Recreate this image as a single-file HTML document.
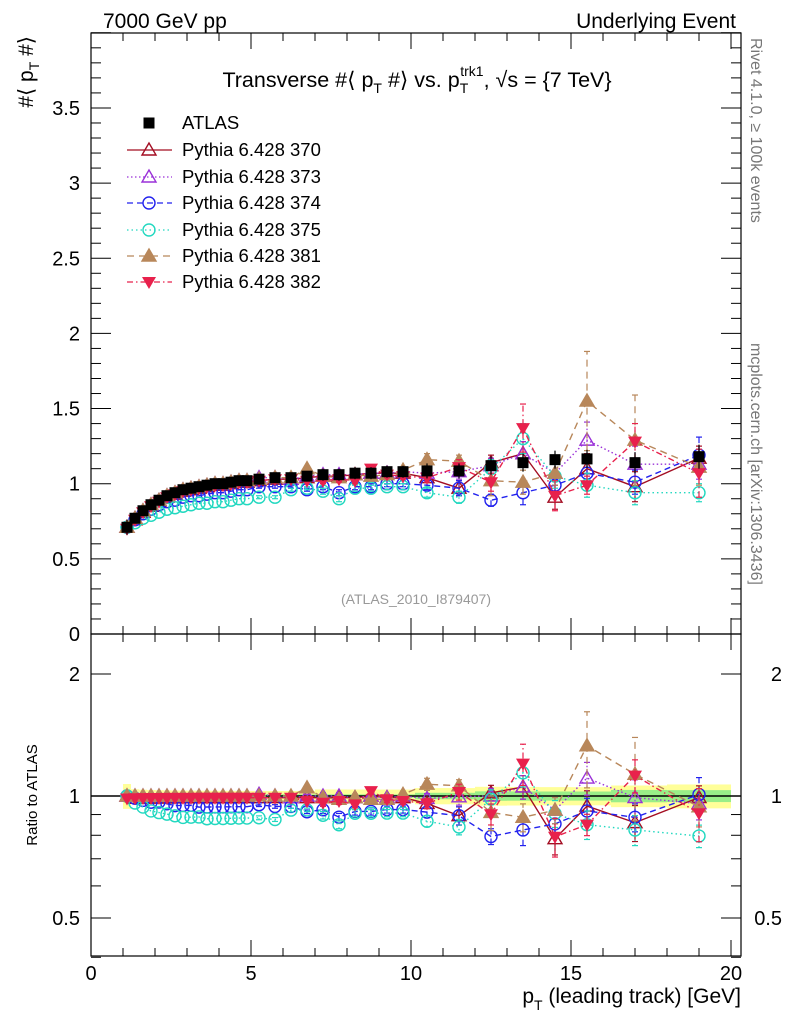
<!DOCTYPE html>
<html><head><meta charset="utf-8"><style>
html,body{margin:0;background:#fff;font-family:"Liberation Sans",sans-serif;overflow:hidden;width:786px;height:1024px}
svg{display:block}
svg text{font-family:"Liberation Sans","DejaVu Sans",sans-serif}
</style></head><body>
<svg id="c" width="786" height="1024" xmlns="http://www.w3.org/2000/svg">
<text x="103" y="28" font-size="21">7000 GeV pp</text>
<text x="736" y="28" font-size="21" text-anchor="end">Underlying Event</text>
<text x="417" y="87" font-size="21.5" text-anchor="middle">Transverse #⟨ p<tspan font-size="14" dy="6">T</tspan><tspan dy="-6"> #⟩ vs. p</tspan><tspan font-size="14" dy="6">T</tspan><tspan font-size="14" dx="-8" dy="-17">trk1</tspan><tspan dy="11">, √s = {7 TeV}</tspan></text>
<text transform="translate(33,36) rotate(-90)" font-size="21" text-anchor="end">#⟨ p<tspan font-size="14" dy="6">T</tspan><tspan dy="-6"> #⟩</tspan></text>
<text transform="translate(37,795) rotate(-90)" font-size="15" text-anchor="middle">Ratio to ATLAS</text>
<text x="741" y="1003" font-size="21" text-anchor="end">p<tspan font-size="14" dy="7">T</tspan><tspan dy="-7"> (leading track) [GeV]</tspan></text>
<text x="416" y="604" font-size="14" fill="#999" text-anchor="middle">(ATLAS_2010_I879407)</text>
<text transform="translate(751,38) rotate(90)" font-size="16" fill="#777">Rivet 4.1.0, ≥ 100k events</text>
<text transform="translate(751,343) rotate(90)" font-size="16" fill="#777">mcplots.cern.ch [arXiv:1306.3436]</text>
<g id="plot"></g>
</svg>
<script>
const xs=[1.125,1.375,1.625,1.875,2.125,2.375,2.625,2.875,3.125,3.375,3.625,3.875,4.125,4.375,4.625,4.875,5.25,5.75,6.25,6.75,7.25,7.75,8.25,8.75,9.25,9.75,10.5,11.5,12.5,13.5,14.5,15.5,17,19];
const atlas=[0.71,0.77,0.82,0.86,0.89,0.92,0.94,0.96,0.97,0.98,0.99,1.00,1.00,1.01,1.02,1.02,1.03,1.04,1.04,1.05,1.06,1.06,1.07,1.07,1.08,1.08,1.085,1.085,1.12,1.14,1.16,1.165,1.14,1.18];
const atlasStat=[0.02,0.01,0.01,0.01,0.01,0.01,0.01,0.01,0.01,0.01,0.01,0.01,0.01,0.01,0.01,0.01,0.01,0.01,0.01,0.01,0.01,0.01,0.01,0.01,0.01,0.01,0.02,0.02,0.03,0.03,0.03,0.03,0.04,0.04];
const atlasSys=[0.05,0.03,0.03,0.03,0.03,0.03,0.03,0.03,0.03,0.03,0.03,0.03,0.03,0.03,0.03,0.03,0.03,0.03,0.03,0.03,0.04,0.04,0.04,0.04,0.04,0.04,0.05,0.05,0.06,0.06,0.06,0.06,0.07,0.08];
const p370=[0.71,0.76,0.81,0.85,0.88,0.91,0.93,0.95,0.96,0.97,0.98,0.99,0.99,1.00,1.01,1.01,1.02,1.03,1.03,1.04,1.05,1.05,1.06,1.07,1.07,1.07,1.04,0.97,1.14,1.20,0.91,1.10,0.98,1.17];
const p373=[0.71,0.77,0.82,0.86,0.89,0.92,0.94,0.96,0.97,0.98,0.99,1.00,1.00,1.01,1.02,1.02,1.04,1.04,1.03,1.05,1.06,1.06,1.06,1.07,1.07,1.08,1.07,1.08,1.12,1.20,1.07,1.29,1.13,1.13];
const p374=[0.71,0.76,0.80,0.83,0.86,0.88,0.89,0.91,0.92,0.92,0.93,0.94,0.94,0.95,0.96,0.96,0.98,0.98,0.98,0.96,0.98,0.94,0.98,0.98,1.00,1.00,0.99,0.97,0.89,0.94,0.99,1.07,1.01,1.19];
const p375=[0.71,0.74,0.77,0.79,0.81,0.83,0.84,0.85,0.86,0.87,0.87,0.88,0.88,0.89,0.90,0.90,0.91,0.91,0.96,0.97,0.95,0.90,0.97,0.97,0.98,0.98,0.94,0.91,1.10,1.30,1.05,0.99,0.94,0.94];
const p381=[0.71,0.77,0.82,0.86,0.89,0.92,0.94,0.96,0.97,0.98,0.99,1.00,1.00,1.01,1.02,1.02,1.03,1.04,1.04,1.10,1.05,1.04,1.06,1.05,1.06,1.09,1.16,1.15,1.02,1.01,1.07,1.55,1.29,1.11];
const p382=[0.70,0.76,0.81,0.85,0.88,0.91,0.93,0.95,0.96,0.97,0.98,0.99,0.99,1.00,1.01,1.01,1.02,1.03,1.03,1.02,1.02,1.03,1.02,1.10,1.06,1.05,1.04,1.11,1.01,1.37,0.92,0.99,1.28,1.07];
const e370=[0,0,0,0,0,0,0,0,0,0,0,0,0,0,0,0,0.01,0.01,0.01,0.01,0.02,0.02,0.02,0.02,0.02,0.02,0.03,0.05,0.05,0.08,0.08,0.10,0.10,0.08];
const e373=[0,0,0,0,0,0,0,0,0,0,0,0,0,0,0,0,0.01,0.01,0.01,0.01,0.02,0.02,0.02,0.02,0.02,0.02,0.03,0.05,0.05,0.08,0.08,0.12,0.12,0.10];
const e374=[0,0,0,0,0,0,0,0,0,0,0,0,0,0,0,0,0.01,0.01,0.01,0.01,0.02,0.02,0.02,0.02,0.02,0.02,0.03,0.05,0.04,0.08,0.06,0.08,0.08,0.12];
const e375=[0,0,0,0,0,0,0,0,0,0,0,0,0,0,0,0,0.01,0.01,0.01,0.01,0.02,0.02,0.02,0.02,0.02,0.02,0.03,0.04,0.06,0.10,0.08,0.08,0.08,0.06];
const e381=[0,0,0,0,0,0,0,0,0,0,0,0,0,0,0,0,0.01,0.01,0.01,0.01,0.02,0.02,0.02,0.02,0.02,0.02,0.04,0.04,0.10,0.08,0.08,0.33,0.30,0.12];
const e382=[0,0,0,0,0,0,0,0,0,0,0,0,0,0,0,0,0.01,0.01,0.01,0.01,0.02,0.02,0.02,0.02,0.02,0.02,0.03,0.05,0.06,0.16,0.10,0.06,0.12,0.16];
const xTicks=[0,5,10,15,20];
const yTicks=[0,0.5,1,1.5,2,2.5,3,3.5];
const rTicks=[0.5,1,2];
const names=["Pythia 6.428 370","Pythia 6.428 373","Pythia 6.428 374","Pythia 6.428 375","Pythia 6.428 381","Pythia 6.428 382"];

const NS="http://www.w3.org/2000/svg";
const g=document.getElementById('plot');
const L=91,R=741,T=33,MB=634,RB=956;
const X=v=>91+32*v;
const Y=v=>634-150.3*v;
const RY=v=>796-122*Math.log2(v);
function el(t,a,p){const e=document.createElementNS(NS,t);for(const k in a)e.setAttribute(k,a[k]);(p||g).appendChild(e);return e;}

const defs=el('defs',{});
const c1=el('clipPath',{id:'cm'},defs);el('rect',{x:L,y:T,width:R-L,height:MB-T},c1);
const c2=el('clipPath',{id:'cr'},defs);el('rect',{x:L,y:MB,width:R-L,height:RB-MB},c2);
const gm=el('g',{'clip-path':'url(#cm)'});


const gr=el('g',{'clip-path':'url(#cr)'});



function lo(i){return i==0?xs[0]-(xs[1]-xs[0])/2:(xs[i-1]+xs[i])/2;}
function hi(i){return i==xs.length-1?xs[i]+(xs[i]-xs[i-1])/2:(xs[i]+xs[i+1])/2;}
for(let i=0;i<xs.length;i++){
  const s=atlasSys[i]/atlas[i];
  const b=el('rect',{x:X(lo(i)),y:RY(1+s),width:X(hi(i))-X(lo(i)),height:RY(1-s)-RY(1+s),fill:'#ffff99'},gr);
  
  
}
for(let i=0;i<xs.length;i++){
  const t=atlasStat[i]/atlas[i];
  const b=el('rect',{x:X(lo(i)),y:RY(1+t),width:X(hi(i))-X(lo(i)),height:RY(1-t)-RY(1+t),fill:'#99ee88'},gr);
  
  
}
const one=el('line',{x1:L,x2:R,y1:796,y2:796,stroke:'#000','stroke-width':1.5},gr);



function marker(p,type,x,y,col){
  let m;
  if(type=='sq')m=el('rect',{x:x-5.5,y:y-5.5,width:11,height:11,fill:'#000'},p);
  else if(type=='tri'||type=='otri'){m=el('polygon',{points:`${x},${y-7} ${x-7},${y+5} ${x+7},${y+5}`,fill:type=='tri'?col:'none',stroke:col,'stroke-width':1.4},p);}
  else if(type=='dtri')m=el('polygon',{points:`${x},${y+7} ${x-7},${y-5} ${x+7},${y-5}`,fill:col},p);
  else m=el('circle',{cx:x,cy:y,r:6,fill:'none',stroke:col,'stroke-width':1.4},p);
  return m;
}
const series=[
 {v:p370,e:e370,c:'#a30d22',d:'',m:'otri'},
 {v:p373,e:e373,c:'#9a30d8',d:'1.5,2.5',m:'otri'},
 {v:p374,e:e374,c:'#2222ee',d:'6,4',m:'circ'},
 {v:p375,e:e375,c:'#22d8c0',d:'1.5,3',m:'circ'},
 {v:p381,e:e381,c:'#b8875a',d:'7,5',m:'tri'},
 {v:p382,e:e382,c:'#e8214c',d:'6,3,1.5,3',m:'dtri'}
];
series.forEach((s,k)=>{
  [[gm,Y,s.v,s.e],[gr,RY,s.v.map((v,i)=>v/atlas[i]),s.e.map((v,i)=>v/atlas[i])]].forEach(([p,fy,vals,errs],pi)=>{
    const gs=el('g',{},p);
    
    
    const pts=vals.map((v,i)=>X(xs[i])+','+fy(v)).join(' ');
    const ln=el('polyline',{points:pts,fill:'none',stroke:s.c,'stroke-width':1.4,'stroke-dasharray':s.d},gs);
    
    
    vals.forEach((v,i)=>{
      if(errs[i]>0){
        const x=X(xs[i]),y1=fy(Math.max(v-errs[i],0.05)),y2=fy(v+errs[i]);
        el('line',{x1:x,x2:x,y1:y1,y2:y2,stroke:s.c,'stroke-width':1.2,'stroke-dasharray':s.d},gs);
        el('line',{x1:x-3,x2:x+3,y1:y1,y2:y1,stroke:s.c,'stroke-width':1.2},gs);
        el('line',{x1:x-3,x2:x+3,y1:y2,y2:y2,stroke:s.c,'stroke-width':1.2},gs);
      }
      const m=marker(gs,s.m,X(xs[i]),fy(v),s.c);
      
      
    });
  });
});
const ga=el('g',{},gm);


atlas.forEach((v,i)=>{
  const e=atlasSys[i];
  el('line',{x1:X(xs[i]),x2:X(xs[i]),y1:Y(v-e),y2:Y(v+e),stroke:'#000','stroke-width':1.2},ga);
  const m=marker(ga,'sq',X(xs[i]),Y(v),'#000');
  
  
});

[[T,MB],[MB,RB]].forEach(([a,b],k)=>{
  const f=el('rect',{x:L,y:a,width:R-L,height:b-a,fill:'none',stroke:'#000','stroke-width':1.2});
  
  
});
for(let v=0;v<=20.3;v+=1){
  const maj=v%5==0;const len=maj?16:8;
  [[MB,-1],[T,1],[RB,-1],[MB,1]].forEach(([y,d])=>el('line',{x1:X(v),x2:X(v),y1:y,y2:y+d*len,stroke:'#000','stroke-width':1}));
}
xTicks.forEach(v=>{const t=el('text',{x:X(v),y:980,'font-size':20,'text-anchor':'middle'});t.textContent=v;
 });
for(let i=0;i<=40;i++){const v=i/10;const maj=i%5==0;const len=maj?20:10;
  el('line',{x1:L,x2:L+len,y1:Y(v),y2:Y(v),stroke:'#000'});el('line',{x1:R,x2:R-len,y1:Y(v),y2:Y(v),stroke:'#000'});}
yTicks.forEach(v=>{const t=el('text',{x:80,y:Y(v)+7,'font-size':20,'text-anchor':'end'});t.textContent=v;
 });
[0.4,0.5,0.6,0.7,0.8,0.9,1,2].forEach(v=>{const maj=(v==0.5||v==1||v==2);const len=maj?20:10;
  el('line',{x1:L,x2:L+len,y1:RY(v),y2:RY(v),stroke:'#000'});el('line',{x1:R,x2:R-len,y1:RY(v),y2:RY(v),stroke:'#000'});});
rTicks.forEach(v=>{
  const t=el('text',{x:80,y:RY(v)+7,'font-size':20,'text-anchor':'end'});t.textContent=v;
  
  const t2=el('text',{x:782,y:RY(v)+7,'font-size':20,'text-anchor':'end'});t2.textContent=v;
  
});
const lg=el('g',{});


const ley=[123,150,177,203,230,256,282];
marker(lg,'sq',149,ley[0],'#000');
let t0=el('text',{x:182,y:ley[0]+6,'font-size':18.5},lg);t0.textContent='ATLAS';
series.forEach((s,k)=>{
  const y=ley[k+1];
  const e=el('g',{},lg);
  
  
  el('line',{x1:127,x2:172,y1:y,y2:y,stroke:s.c,'stroke-width':1.3,'stroke-dasharray':s.d},e);
  marker(e,s.m,149,y,s.c);
  const t=el('text',{x:182,y:y+6,'font-size':18.5},e);t.textContent=names[k];
});
</script>
</body></html>
